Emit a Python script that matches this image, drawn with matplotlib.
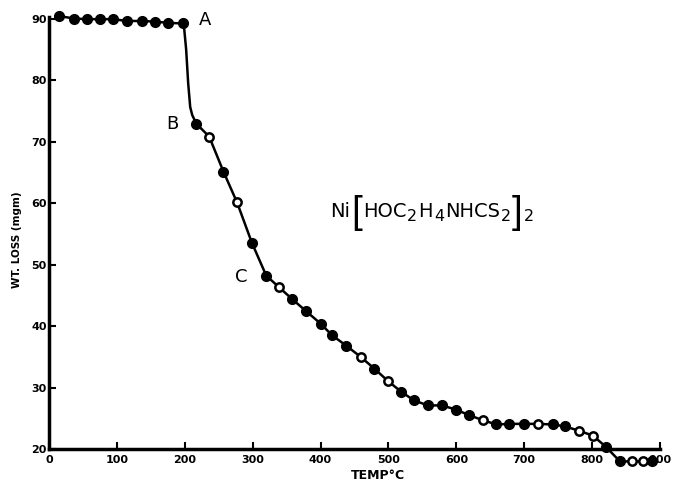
import matplotlib
matplotlib.use("Agg")
import matplotlib.pyplot as plt
from matplotlib.transforms import IdentityTransform
import numpy as np

plt.rcParams['font.family'] = ['DejaVu Sans']
plt.rcParams['mathtext.fontset'] = 'dejavusans'

# Data (temperature in °C, weight in mgm)
temp = [15, 37, 56, 75, 94, 115, 137, 156, 175, 197,
        217, 236, 257, 277, 299, 320, 339, 358, 379, 400,
        417, 438, 459, 479, 499, 519, 538, 558, 579, 600,
        619, 639, 659, 678, 699, 720, 742, 760, 780, 801,
        820, 841, 859, 875, 888]
weight = [90.4, 90.0, 89.9, 89.9, 89.9, 89.6, 89.6, 89.5, 89.3, 89.2,
          72.9, 70.8, 65.1, 60.1, 53.5, 48.2, 46.3, 44.4, 42.4, 40.4,
          38.5, 36.8, 35.0, 33.1, 31.1, 29.3, 27.9, 27.1, 27.1, 26.4,
          25.5, 24.7, 24.0, 24.1, 24.1, 24.1, 24.0, 23.7, 23.0, 22.2,
          20.4, 18.0, 18.0, 18.0, 18.0]
open_marker = [0, 0, 0, 0, 0, 0, 0, 0, 0, 0,
               0, 1, 0, 1, 0, 0, 1, 0, 0, 0,
               0, 0, 1, 0, 1, 0, 0, 0, 0, 0,
               0, 1, 0, 0, 0, 1, 0, 0, 1, 1,
               0, 0, 1, 1, 0]

# Unmarked points tracing the steep drop between A and B
drop_temp = [199, 202, 205, 208, 211]
drop_weight = [88.5, 85.0, 79.5, 75.6, 74.3]

x_ticks = [0, 100, 200, 300, 400, 500, 600, 700, 800, 900]
y_ticks = [20, 30, 40, 50, 60, 70, 80, 90]

fig = plt.figure(figsize=(6.87, 4.83), dpi=100)
ax = fig.add_axes([49/687, 0.032, 611/687, 0.936])

curve_t = np.array(temp + drop_temp, dtype=float)
curve_w = np.array(weight + drop_weight, dtype=float)
order = np.argsort(curve_t)
ax.plot(curve_t[order], curve_w[order], color='black', lw=1.8, zorder=2,
        clip_on=False)

t = np.array(temp); w = np.array(weight); o = np.array(open_marker, bool)
ax.plot(t[~o], w[~o], 'o', ms=7, mfc='black', mec='black', zorder=3,
        clip_on=False)
ax.plot(t[o], w[o], 'o', ms=6, mfc='white', mec='black', mew=1.8, zorder=3,
        clip_on=False)

ax.set_xlim(0, 900)
ax.set_ylim(17, 90.5)

for s in ['top', 'right']:
    ax.spines[s].set_visible(False)
ax.spines['bottom'].set_position(('data', 20))
ax.spines['bottom'].set_bounds(0, 900)
ax.spines['left'].set_bounds(20, 90.3)
ax.spines['bottom'].set_linewidth(2.5)
ax.spines['left'].set_linewidth(2.5)

ax.set_xticks(x_ticks)
ax.set_yticks(y_ticks)
ax.set_xticklabels([str(v) for v in x_ticks], fontsize=8, fontweight='bold')
ax.set_yticklabels([str(v) for v in y_ticks], fontsize=8, fontweight='bold')
ax.tick_params(axis='x', direction='in', length=5, width=1.5, pad=4)
ax.tick_params(axis='y', direction='in', length=5, width=1.5, pad=1.5)

ax.set_xlabel('TEMP°C', fontsize=9, fontweight='bold')
ax.xaxis.set_label_coords(0.538, -0.017)
ax.xaxis.label.set_va('center')
ax.set_ylabel('WT. LOSS (mgm)', fontsize=7.5, fontweight='bold')
ax.yaxis.set_label_coords(-0.052, 0.503)
ax.yaxis.label.set_va('center')

ax.text(230, 89.8, 'A', fontsize=13, ha='center', va='center')
ax.text(181, 72.8, 'B', fontsize=13, ha='center', va='center')
ax.text(283, 48.0, 'C', fontsize=13, ha='center', va='center')

# Formula Ni[HOC2H4NHCS2]2 assembled piece by piece (tall brackets)
pieces = [("Ni", 14, 0, 'DejaVu Sans'), ("[", 28, -6, 'Liberation Sans'),
          ("HOC", 14, 0, 'DejaVu Sans'), ("2", 11.5, -4, 'DejaVu Sans'),
          ("H", 14, 0, 'DejaVu Sans'), ("4", 11.5, -4, 'DejaVu Sans'),
          ("NHCS", 14, 0, 'DejaVu Sans'), ("2", 11.5, -4, 'DejaVu Sans'),
          ("]", 28, -6, 'Liberation Sans'), ("2", 11.5, -4, 'DejaVu Sans')]
renderer = fig.canvas.get_renderer()
x0, y0 = ax.transData.transform((414, 57.7))
x = x0
for s, size, dy, fam in pieces:
    txt = fig.text(x, y0 + dy, s, fontsize=size, family=fam,
                   transform=IdentityTransform(), ha='left', va='baseline')
    bb = txt.get_window_extent(renderer)
    x = bb.x1 + 1.0

fig.savefig('out.png', dpi=100)
